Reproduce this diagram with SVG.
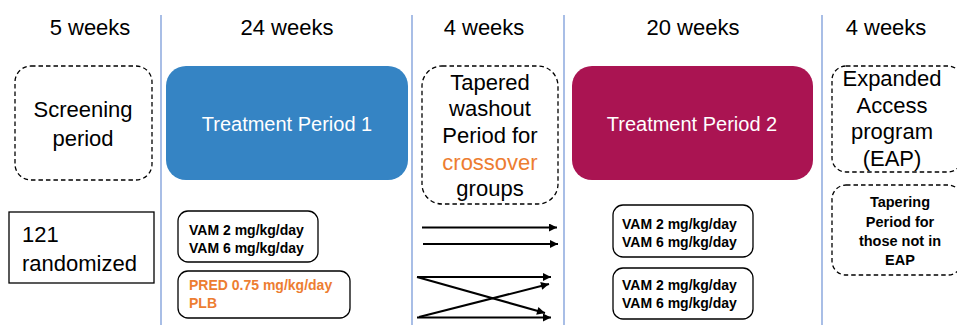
<svg xmlns="http://www.w3.org/2000/svg" width="957" height="325" viewBox="0 0 957 325">
<defs>
<marker id="ah" viewBox="0 0 10 10" refX="10" refY="5" markerWidth="10" markerHeight="8" markerUnits="userSpaceOnUse" orient="auto">
<path d="M0,0 L10,5 L0,10 Z" fill="#000"/>
</marker>
</defs>
<style>
text{font-family:"Liberation Sans",Arial,sans-serif;fill:#000}
.hd{font-size:22px;text-anchor:middle}
.big{font-size:22px;text-anchor:middle}
.wt{font-size:20px;fill:#fff;text-anchor:middle}
.b{font-size:14px;font-weight:bold}
.bc{font-size:14.5px;font-weight:bold;text-anchor:middle}
.or{fill:#ED7D31}
.dash{fill:#fff;stroke:#000;stroke-width:1.3;stroke-dasharray:4.5 3}
.box{fill:#fff;stroke:#000;stroke-width:1.3}
.vl{stroke:#6F93D6;stroke-width:1.2}
.ar{stroke:#000;stroke-width:2;fill:none;marker-end:url(#ah)}
</style>
<g id="dividers">
<line class="vl" x1="161" y1="15" x2="161" y2="325"/>
<line class="vl" x1="412" y1="15" x2="412" y2="325"/>
<line class="vl" x1="564" y1="15" x2="564" y2="325"/>
<line class="vl" x1="822" y1="15" x2="822" y2="325"/>
</g>
<g id="headings">
<text class="hd" x="90" y="35">5 weeks</text>
<text class="hd" x="287" y="35">24 weeks</text>
<text class="hd" x="484" y="35">4 weeks</text>
<text class="hd" x="693" y="35">20 weeks</text>
<text class="hd" x="886" y="35">4 weeks</text>
</g>
<g id="screening">
<rect class="dash" x="15" y="66" width="137" height="114" rx="16"/>
<text class="big" x="83" y="117">Screening</text>
<text class="big" x="83" y="146">period</text>
</g>
<g id="tp1">
<rect x="166" y="66" width="242" height="114" rx="20" fill="#3584C4"/>
<text class="wt" x="287" y="131">Treatment Period 1</text>
</g>
<g id="washout">
<rect class="dash" x="422" y="66" width="136" height="138" rx="20"/>
<text class="big" x="490" y="90">Tapered</text>
<text class="big" x="490" y="116">washout</text>
<text class="big" x="490" y="143">Period for</text>
<text class="big or" x="490" y="170">crossover</text>
<text class="big" x="490" y="196">groups</text>
</g>
<g id="tp2">
<rect x="572" y="66" width="241" height="114" rx="20" fill="#AA1452"/>
<text class="wt" x="692" y="131">Treatment Period 2</text>
</g>
<g id="eap">
<rect class="dash" x="832" y="66" width="130" height="106" rx="14"/>
<text class="big" x="892" y="86">Expanded</text>
<text class="big" x="892" y="113">Access</text>
<text class="big" x="892" y="139">program</text>
<text class="big" x="892" y="166">(EAP)</text>
</g>
<g id="tapering">
<rect class="dash" x="832" y="185" width="130" height="90" rx="14"/>
<text class="bc" x="900" y="207">Tapering</text>
<text class="bc" x="900" y="227">Period for</text>
<text class="bc" x="900" y="246">those not in</text>
<text class="bc" x="900" y="265">EAP</text>
</g>
<g id="randomized">
<rect class="box" x="9" y="212" width="145" height="71"/>
<text style="font-size:22px" x="22" y="242">121</text>
<text style="font-size:22px" x="22" y="271">randomized</text>
</g>
<g id="vam1">
<rect class="box" x="178" y="211" width="140" height="51" rx="10"/>
<text class="b" x="189" y="235">VAM 2 mg/kg/day</text>
<text class="b" x="189" y="253">VAM 6 mg/kg/day</text>
</g>
<g id="pred">
<rect class="box" x="178" y="271" width="172" height="47" rx="10"/>
<text class="b or" x="189" y="290">PRED 0.75 mg/kg/day</text>
<text class="b or" x="189" y="308">PLB</text>
</g>
<g id="vam2">
<rect class="box" x="613" y="205" width="140" height="52" rx="10"/>
<text class="b" x="622" y="229">VAM 2 mg/kg/day</text>
<text class="b" x="622" y="247">VAM 6 mg/kg/day</text>
</g>
<g id="vam3">
<rect class="box" x="613" y="268" width="140" height="51" rx="10"/>
<text class="b" x="622" y="290">VAM 2 mg/kg/day</text>
<text class="b" x="622" y="308">VAM 6 mg/kg/day</text>
</g>
<g id="connectors">
<line class="ar" x1="422" y1="227.5" x2="557" y2="227.5"/>
<line class="ar" x1="423" y1="244" x2="558" y2="244"/>
<line class="ar" x1="417" y1="277" x2="551" y2="277"/>
<line class="ar" x1="417" y1="277" x2="545" y2="313"/>
<line class="ar" x1="419" y1="317" x2="549" y2="284"/>
<line class="ar" x1="417" y1="317.5" x2="551" y2="317.5"/>
</g>
</svg>
